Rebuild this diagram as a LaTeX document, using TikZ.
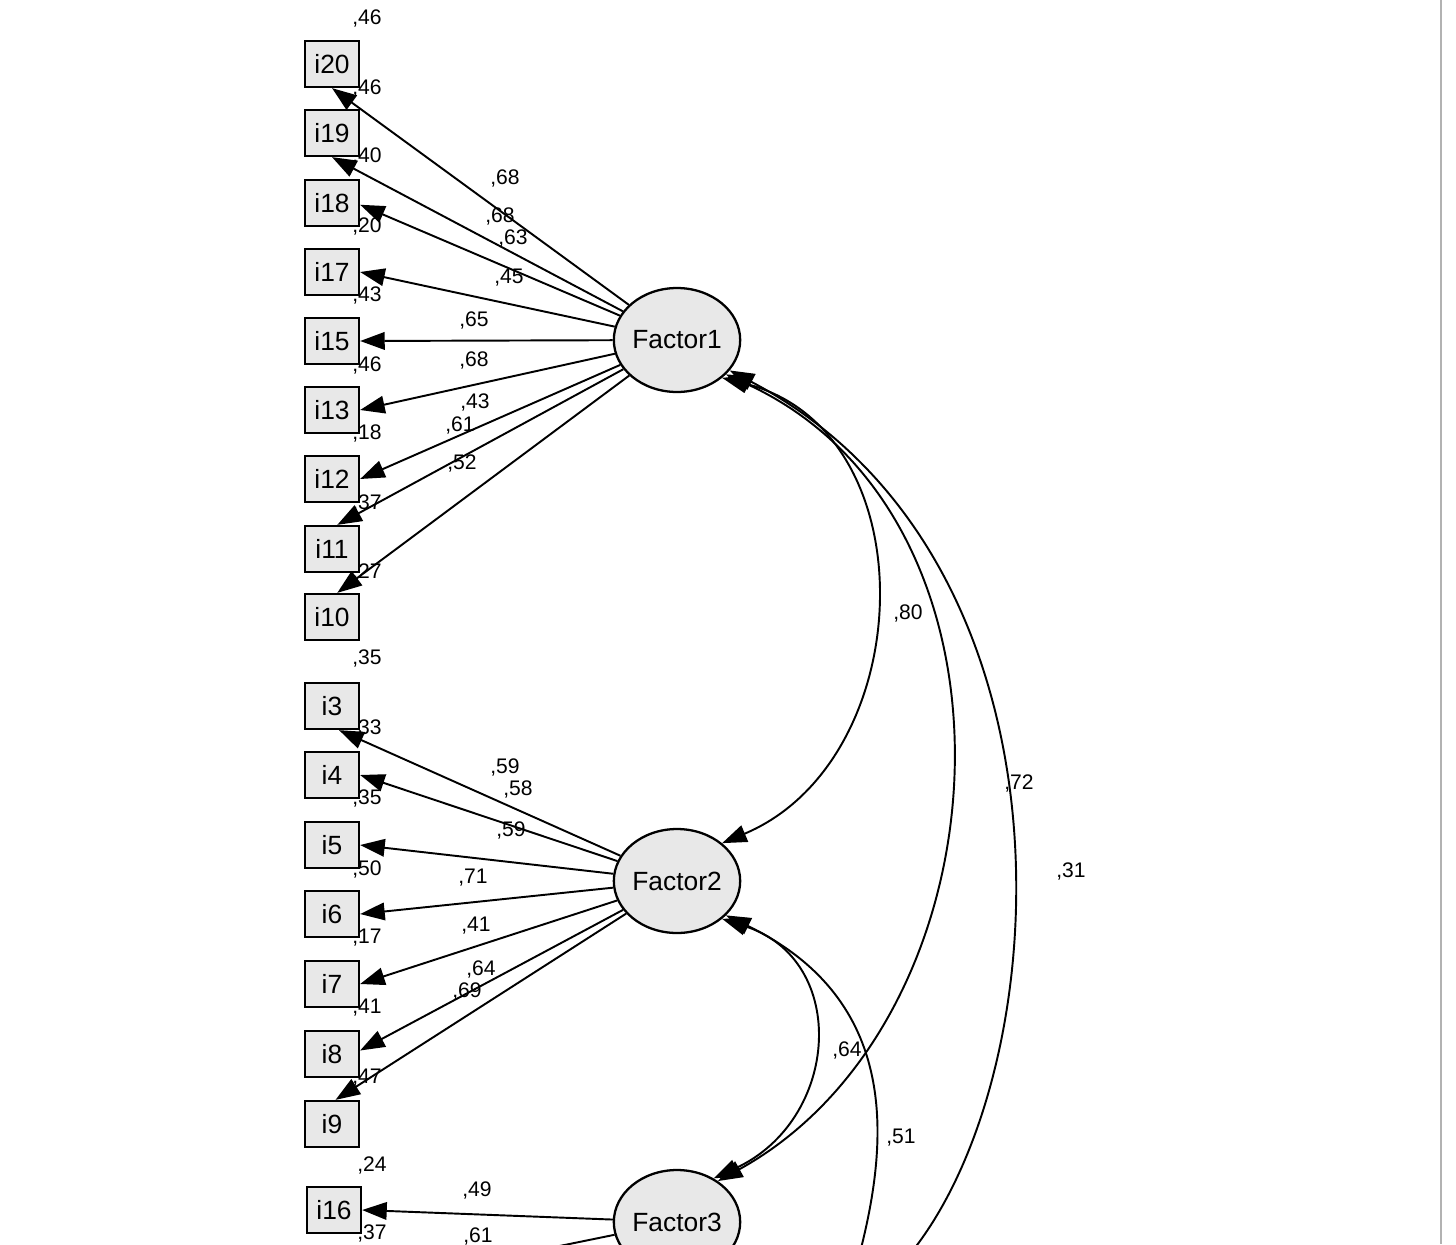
\documentclass[tikz,border=0pt]{standalone}
\usepackage{fontspec}
\setmainfont{Liberation Sans}
\usetikzlibrary{arrows.meta,shapes.geometric}
\begin{document}
\begin{tikzpicture}[x=0.02cm,y=-0.02cm,
  obs/.style={draw,line width=1.3pt,fill=gray!18,minimum width=1.08cm,minimum height=0.92cm,inner sep=0pt,font=\fontsize{15}{15}\selectfont},
  lat/.style={draw,line width=1.3pt,ellipse,fill=gray!18,minimum width=2.2cm,minimum height=2.08cm,inner sep=0pt,font=\fontsize{15}{15}\selectfont},
  ld/.style={line width=1.1pt,-{Triangle[length=14pt,width=10pt]}},
  cv/.style={line width=1.1pt,{Triangle[length=14pt,width=10pt]}-{Triangle[length=14pt,width=10pt]}},
  lb/.style={font=\fontsize{12}{12}\selectfont,inner sep=0pt}]
\useasboundingbox (0,0) rectangle (1456,1244);
\clip (0,0) rectangle (1456,1244);
\draw[gray!60,line width=0.8pt] (1441,0) -- (1441,1244);
% observed
\foreach \n/\y in {i20/64,i19/133,i18/203,i17/272,i15/341,i13/410,i12/479,i11/549,i10/617,i3/706,i4/775,i5/845,i6/914,i7/984,i8/1054,i9/1124}
  \node[obs] (\n) at (332,\y) {\n};
\node[obs] (i16) at (334,1210) {i16};
\node[lat] (F1) at (677,340) {Factor1};
\node[lat] (F2) at (677,881) {Factor2};
\node[lat] (F3) at (677,1222) {Factor3};
\coordinate (o61) at (540,1250);
\coordinate (o31) at (905,1260);
\coordinate (o51) at (858,1260);
% loadings F1
\draw[ld] (F1) -- (i20.south);
\draw[ld] (F1) -- (i19.south);
\draw[ld] (F1) -- ([yshift=-1pt]i18.east);
\draw[ld] (F1) -- (i17.east);
\draw[ld] (F1) -- (i15.east);
\draw[ld] (F1) -- (i13.east);
\draw[ld] (F1) -- (i12.east);
\draw[ld] (F1) -- ([xshift=3pt]i11.north);
\draw[ld] (F1) -- ([xshift=3pt]i10.north);
% loadings F2
\draw[ld] (F2) -- ([xshift=4pt]i3.south);
\draw[ld] (F2) -- (i4.east);
\draw[ld] (F2) -- (i5.east);
\draw[ld] (F2) -- (i6.east);
\draw[ld] (F2) -- (i7.east);
\draw[ld] (F2) -- ([yshift=2pt]i8.east);
\draw[ld] (F2) -- ([xshift=2pt]i9.north);
% F3
\draw[ld] (F3) -- (i16.east);
\draw[line width=1.1pt] (F3) -- (o61);
% covariances
\draw[cv] (F1.-40) .. controls (930,430) and (920,760) .. (F2.40);
\draw[cv] (F1.-35) .. controls (1040,520) and (1010,1020) .. (F3.45);
\draw[line width=1.1pt,{Triangle[length=14pt,width=10pt]}-] (F1.-30) .. controls (1090,560) and (1060,1080) .. (o31);
\draw[cv] (F2.-40) .. controls (850,960) and (840,1120) .. (F3.50);
\draw[line width=1.1pt,{Triangle[length=14pt,width=10pt]}-] (F2.-35) .. controls (900,1000) and (890,1140) .. (o51);
% variance labels
\foreach \t/\y in {46/18,46/88,40/156,20/226,43/295,46/365,18/433,37/503,27/572,35/658,33/728,35/798,50/869,17/938,41/1008,47/1078}
  \node[lb] at (367,\y) {,\t};
\node[lb] at (372,1165) {,24};
\node[lb] at (372,1233) {,37};
% loading labels
\foreach \t/\x/\y in {68/505/178,68/500/216,63/513/238,45/509/278,65/474/320,68/474/360,43/475/402,61/460/425,52/462/463,
  59/505/767,58/518/789,59/511/830,71/473/878,41/476/926,64/481/969,69/467/991,49/477/1190,61/478/1236}
  \node[lb,fill=white,fill opacity=0,text opacity=1] at (\x,\y) {,\t};
\foreach \t/\x/\y in {80/908/613,72/1019/783,31/1071/871,64/847/1050,51/901/1138}
  \node[lb] at (\x,\y) {,\t};
\end{tikzpicture}
\end{document}
